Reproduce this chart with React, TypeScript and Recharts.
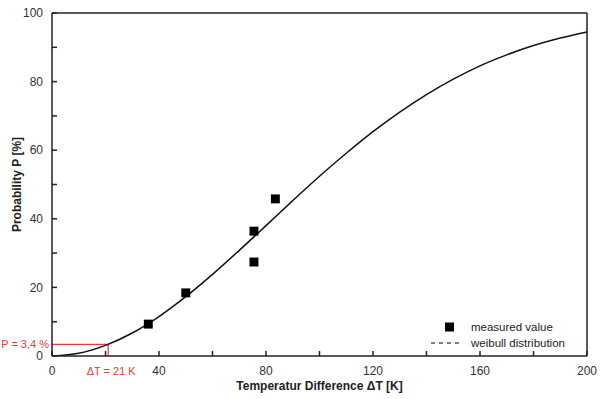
import {
  ComposedChart,
  Line,
  Scatter,
  XAxis,
  YAxis,
  ZAxis,
  ReferenceLine,
  Legend,
} from "recharts";

// measured failure probabilities
const measuredDeltaT = [36, 50, 75.5, 75.5, 83.5];
const measuredP = [9.3, 18.4, 36.4, 27.4, 45.8];

// weibull curve, sampled every 10 K
const curveDeltaT = [0, 10, 20, 30, 40, 50, 60, 70, 80, 90, 100, 110, 120, 130, 140, 150, 160, 170, 180, 190, 200];
const curveP = [0, 0.8, 3.1, 6.7, 11.5, 17.3, 23.8, 30.8, 38.0, 45.3, 52.4, 59.1, 65.4, 71.1, 76.2, 80.7, 84.6, 87.8, 90.5, 92.7, 94.5];

const xTicks = [0, 20, 40, 60, 80, 100, 120, 140, 160, 180, 200];
const yTicks = [0, 10, 20, 30, 40, 50, 60, 70, 80, 90, 100];

// annotation: P = 3,4 % at dT = 21 K
const markDeltaT = 21;
const markP = 3.4;

const FONT = "'Liberation Sans', Arial, sans-serif";
const RED = "#e53b3b";
const AXIS = "#222";

const measured = measuredDeltaT.map((t, i) => ({ t, p: measuredP[i] }));
const curve = curveDeltaT.map((t, i) => ({ t, p: curveP[i] }));

function LegendBox({ payload }: any) {
  return (
    <div style={{ fontFamily: FONT, fontSize: 11.5, color: "#222" }}>
      {(payload || []).map((entry: any) => (
        <div key={entry.value} style={{ display: "flex", alignItems: "center", height: 16 }}>
          <svg width={36} height={10} style={{ marginRight: 4 }}>
            {entry.type === "square" ? (
              <rect x={14} y={0.5} width={9} height={9} fill="#000" />
            ) : (
              <line x1={0} y1={5} x2={31} y2={5} stroke="#000" strokeWidth={1.2} strokeDasharray="4 4" />
            )}
          </svg>
          <span>{entry.value}</span>
        </div>
      ))}
    </div>
  );
}

export default function App() {
  return (
    <div style={{ position: "absolute", top: 0, left: 0, background: "#fff" }}>
      <ComposedChart
        width={600}
        height={399}
        margin={{ top: 13, right: 13, left: 0, bottom: 0 }}
        style={{ fontFamily: FONT }}
      >
        <XAxis
          dataKey="t"
          type="number"
          domain={[0, 200]}
          ticks={xTicks}
          allowDataOverflow
          tickFormatter={(v: number) => (v % 40 === 0 ? String(v) : "")}
          height={43}
          stroke={AXIS}
          strokeWidth={1.5}
          tickSize={-5}
          tickMargin={15}
          tick={{ fill: "#333", fontSize: 12 }}
          label={{
            value: "Temperatur Difference ΔT [K]",
            position: "insideBottom",
            offset: 9,
            style: { fontWeight: "bold", fontSize: 12, fill: "#222" },
          }}
        />
        <YAxis
          dataKey="p"
          type="number"
          domain={[0, 100]}
          ticks={yTicks}
          allowDataOverflow
          tickFormatter={(v: number) => (v % 20 === 0 ? String(v) : "")}
          width={52}
          stroke={AXIS}
          strokeWidth={1.5}
          tickSize={-5}
          tickMargin={14}
          tick={{ fill: "#333", fontSize: 12 }}
          label={{
            value: "Probability P [%]",
            angle: -90,
            position: "insideLeft",
            offset: 17,
            style: { fontWeight: "bold", fontSize: 12, fill: "#222", textAnchor: "middle" },
          }}
        />
        <ZAxis range={[80, 80]} />
        <ReferenceLine y={100} stroke={AXIS} strokeWidth={1.5} />
        <ReferenceLine x={200} stroke={AXIS} strokeWidth={1.5} />
        <ReferenceLine
          segment={[{ x: 0, y: markP }, { x: markDeltaT, y: markP }]}
          stroke={RED}
          strokeWidth={1.2}
          label={{ value: "P = 3,4 %", position: "left", offset: 3, fill: RED, fontSize: 11 }}
        />
        <ReferenceLine
          segment={[{ x: markDeltaT, y: 0 }, { x: markDeltaT, y: markP }]}
          stroke={RED}
          strokeWidth={1.2}
          label={{ value: "ΔT = 21 K", position: "bottom", offset: 11, fill: RED, fontSize: 11, dx: 3 }}
        />
        <Line
          data={curve}
          dataKey="p"
          name="weibull distribution"
          type="monotone"
          stroke="#111"
          strokeWidth={1.5}
          dot={false}
          legendType="line"
          isAnimationActive={false}
        />
        <Scatter
          data={measured}
          dataKey="p"
          name="measured value"
          shape="square"
          fill="#000"
          legendType="square"
          isAnimationActive={false}
        />
        <Legend
          layout="vertical"
          align="center"
          verticalAlign="middle"
          content={LegendBox}
          wrapperStyle={{ left: 431, top: 319, width: 160 }}
        />
      </ComposedChart>
    </div>
  );
}
